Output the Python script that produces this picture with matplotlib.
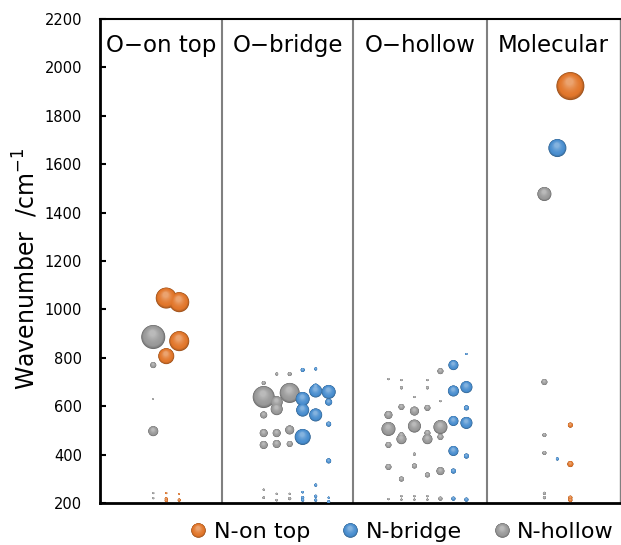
import numpy as np
import matplotlib
matplotlib.use("Agg")
import matplotlib.pyplot as plt
from matplotlib.path import Path
from matplotlib.markers import MarkerStyle
from matplotlib.lines import Line2D
from matplotlib.legend_handler import HandlerTuple
from matplotlib.colors import to_rgb

# ---------------- data ----------------
panel_labels = ["O\u2212on top", "O\u2212bridge", "O\u2212hollow", "Molecular"]
panel_edges = [0, 9.4, 19.5, 29.8, 40]
series_names = ["N-on top", "N-bridge", "N-hollow"]

# N-on top (orange)
ontop_x = [5.1, 6.1, 6.1, 5.1, 5.1, 5.1, 5.1, 6.1, 6.1,
           36.2, 36.2, 36.2, 36.2, 36.2]
ontop_y = [1047, 1030, 869, 807, 241, 217, 210, 212, 238,
           1923, 522, 361, 222, 212]
ontop_i = [10.5, 10, 10, 8, 1, 1.5, 1.5, 1.5, 0.8,
           14, 2.5, 3, 2, 2]

# N-bridge (blue)
bridge_x = [15.6, 16.6, 15.6, 16.6, 16.6, 17.6, 17.6, 15.6, 16.6, 17.6, 15.6, 17.6, 16.6,
            15.6, 15.6, 15.6, 16.6, 16.6, 17.6, 17.6,
            28.2, 27.2, 28.2, 27.2, 28.2, 27.2, 28.2, 27.2, 28.2, 27.2, 27.2, 28.2,
            35.2, 35.2]
bridge_y = [750, 754, 630, 663, 679, 659, 617, 584, 564, 526, 473, 374, 274,
            245, 222, 212, 228, 212, 222, 205,
            816, 770, 679, 663, 593, 539, 531, 415, 394, 332, 218, 214,
            1667, 382]
bridge_i = [2, 1.5, 7, 6.5, 3.5, 7, 3.5, 6.5, 6.5, 2.5, 8, 2.5, 1.5,
            1.2, 1.5, 1.5, 1.5, 1.5, 1, 1.5,
            1, 5, 6, 5.5, 2.5, 5, 6, 5, 2.5, 2.5, 2, 2,
            9, 1.5]

# N-hollow (gray)
hollow_x = [4.1, 4.1, 4.1, 4.1, 4.1, 4.1,
            12.6, 13.6, 14.6, 12.6, 14.6, 13.6, 13.6, 12.6, 12.6, 13.6, 14.6, 12.6, 13.6, 14.6,
            12.6, 12.6, 13.6, 13.6, 14.6, 14.6,
            26.2, 22.2, 23.2, 25.2, 23.2, 25.2, 24.2, 26.2, 23.2, 24.2, 25.2, 22.2, 22.2,
            24.2, 26.2, 23.2, 23.2, 25.2, 25.2, 26.2, 22.2, 24.2, 22.2, 24.2, 26.2, 23.2, 25.2,
            22.2, 23.2, 23.2, 24.2, 24.2, 25.2, 25.2, 26.2,
            34.2, 34.2, 34.2, 34.2, 34.2, 34.2]
hollow_y = [886, 770, 630, 497, 241, 220,
            696, 733, 733, 638, 655, 617, 588, 564, 489, 489, 502, 440, 444, 444,
            255, 222, 238, 212, 238, 218,
            745, 712, 708, 708, 676, 676, 638, 621, 597, 580, 593, 564, 506,
            518, 514, 480, 464, 489, 464, 473, 440, 402, 349, 353, 332, 299, 316,
            216, 228, 214, 228, 214, 228, 214, 218,
            1477, 700, 481, 407, 240, 222]
hollow_i = [12, 3, 0.7, 5, 1, 1,
            2, 1.5, 2, 11, 10, 6, 6, 3.5, 4, 4, 4.5, 4, 4, 3,
            1, 1.2, 1, 1.2, 1, 1.5,
            3, 1, 1, 1, 1.5, 1.5, 1, 1, 3, 4.5, 3, 4, 7,
            6.5, 7, 3, 5, 3, 5, 3, 3, 1.5, 3, 2.5, 4, 2.5, 2.5,
            1, 1, 1, 1, 1, 1, 1, 2,
            7, 3, 2, 2, 1.5, 1.5]

base_colors = ["#E2772B", "#4A8FD0", "#9A9A9A"]

# ---------------- helpers ----------------
N_LAYERS = 22


def layer_marker(f, dx, dy):
    circ = Path.circle((dx, dy), f)
    verts = np.vstack([[[-1.0, -1.0], [1.0, 1.0]], circ.vertices])
    codes = np.concatenate([[Path.MOVETO, Path.MOVETO], circ.codes])
    return MarkerStyle(Path(verts, codes))


def mix(a, b, t):
    a = np.array(a); b = np.array(b)
    return tuple(a + (b - a) * t)


def layers(color):
    base = to_rgb(color)
    dark = tuple(np.array(base) * 0.68)
    light = mix(base, (1, 1, 1), 0.32)
    out = []
    for k in range(N_LAYERS):
        t = k / (N_LAYERS - 1)
        f = 1 - 0.75 * t
        d = 1 - f
        mk = layer_marker(f, -0.08 * d, 0.42 * d)
        if t < 0.25:
            c = mix(dark, base, (t / 0.25) ** 0.7)
        else:
            c = mix(base, light, ((t - 0.25) / 0.75) ** 1.6)
        out.append((mk, c))
    return out


def draw_series(ax, xs, ys, inten, color):
    xs = np.asarray(xs); ys = np.asarray(ys); inten = np.asarray(inten, float)
    order = np.argsort(-inten, kind="stable")
    xs, ys, inten = xs[order], ys[order], inten[order]
    sizes = (1.44 * inten) ** 2
    for mk, c in layers(color):
        ax.scatter(xs, ys, s=sizes, marker=mk, color=c, linewidths=0, zorder=3)


# ---------------- figure ----------------
fig = plt.figure(figsize=(6.21, 5.45), dpi=100)
ax = fig.add_axes([0.161, 0.077, 0.837, 0.888])

draw_series(ax, hollow_x, hollow_y, hollow_i, base_colors[2])
draw_series(ax, bridge_x, bridge_y, bridge_i, base_colors[1])
draw_series(ax, ontop_x, ontop_y, ontop_i, base_colors[0])

ax.set_xlim(panel_edges[0], panel_edges[-1])
ax.set_ylim(200, 2200)
ax.set_yticks(np.arange(200, 2201, 200))
ax.set_xticks([])
ax.tick_params(axis="y", direction="in", length=4, width=1.5, labelsize=10.5, pad=13)

for xe in panel_edges[1:-1]:
    ax.axvline(xe, color="#808080", lw=1.5, zorder=1)

for i, lab in enumerate(panel_labels):
    xc = (panel_edges[i] + panel_edges[i + 1]) / 2
    ax.text(xc, 2090, lab, ha="center", va="center", fontsize=16.5)

for sp in ["left", "bottom"]:
    ax.spines[sp].set_linewidth(2)
ax.spines["top"].set_linewidth(1.5)
ax.spines["right"].set_color("#808080")
ax.spines["right"].set_linewidth(1)

ax.set_ylabel("Wavenumber  /cm$^{-1}$", fontsize=17, labelpad=6)
ax.yaxis.set_label_coords(-0.115, 0.485)

# legend
handles = []
for col in base_colors:
    handles.append(tuple(Line2D([], [], ls="none", marker=mk, markersize=10.5,
                                markerfacecolor=c, markeredgewidth=0)
                         for mk, c in layers(col)))
fig.legend(handles, series_names, loc="center", bbox_to_anchor=(0.645, 0.024),
           ncol=3, frameon=False, fontsize=16, handletextpad=0.2,
           columnspacing=1.3, handlelength=1.0,
           handler_map={tuple: HandlerTuple(ndivide=1, pad=0)})

fig.savefig("out.png", dpi=100)
